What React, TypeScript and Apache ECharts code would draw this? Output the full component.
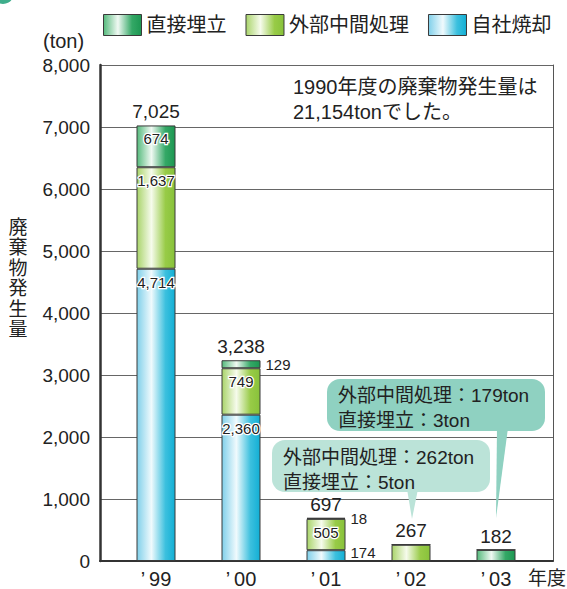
import React, { useEffect, useRef } from 'react';
import * as echarts from 'echarts';

// ---- data ----
const categories = ['’\u200999', '’\u200900', '’\u200901', '’\u200902', '’\u200903'];
const incineration = [4714, 2360, 174, 0, 0]; // 自社焼却
const intermediate = [1637, 749, 505, 262, 179]; // 外部中間処理
const landfill = [674, 129, 18, 5, 3]; // 直接埋立
const totals = [7025, 3238, 697, 267, 182];
const legendNames = ['直接埋立', '外部中間処理', '自社焼却'];
const yMax = 8000;
const yInterval = 1000;
const note1990 = ['1990年度の廃棄物発生量は', '21,154tonでした。'];
const bubble02 = ['外部中間処理：262ton', '直接埋立：5ton'];
const bubble03 = ['外部中間処理：179ton', '直接埋立：3ton'];

const FONT = '"Liberation Sans", "Noto Sans CJK JP", sans-serif';
const TXT = '#222';

function grad(stops: [number, string][]) {
  return new echarts.graphic.LinearGradient(
    0, 0, 1, 0,
    stops.map(([offset, color]) => ({ offset, color }))
  );
}
const landfillColor = () => grad([[0, '#55ba7c'], [0.38, '#f0f9f3'], [0.75, '#34a866'], [1, '#1c9752']]);
const interColor = () => grad([[0, '#a9d46a'], [0.38, '#f6fbec'], [0.75, '#98cb47'], [1, '#88c23a']]);
const incColor = () => grad([[0, '#80d0ea'], [0.38, '#f0fafd'], [0.75, '#3cc0de'], [1, '#12afd5']]);

const fmt = (v: number) => v.toLocaleString('en-US');

type Pos = 'in' | 'right' | 'rightLow' | null;
function lab(pos: Pos) {
  if (!pos) return { show: false };
  if (pos === 'in')
    return {
      show: true, position: 'insideTop', distance: 6, fontSize: 15, color: TXT,
      textBorderColor: '#fff', textBorderWidth: 2.5,
    };
  return {
    show: true, position: 'right', distance: 5, fontSize: 15, color: TXT,
    offset: pos === 'rightLow' ? [0, -3] : [0, 0],
  };
}

const incPos: Pos[] = ['in', 'in', 'rightLow', null, null];
const interPos: Pos[] = ['in', 'in', 'in', null, null];
const landPos: Pos[] = ['in', 'right', 'right', null, null];

export default function App() {
  const ref = useRef<HTMLDivElement>(null);
  useEffect(() => {
    document.body.style.margin = '0';
    if (!ref.current) return;
    const chart = echarts.init(ref.current, undefined, { renderer: 'svg' });
    const border = { borderColor: '#3a3a3a', borderWidth: 1 };
    const common = {
      type: 'bar', stack: 'total', xAxisIndex: 1, yAxisIndex: 2,
      barWidth: 39, barGap: '-100%',
      label: { fontFamily: FONT, formatter: (p: any) => fmt(p.value) },
    };
    const option: any = {
      animation: false,
      textStyle: { fontFamily: FONT },
      legend: {
        data: legendNames,
        left: 98, top: 9,
        itemWidth: 38, itemHeight: 21, itemGap: 19,
        icon: 'rect',
        itemStyle: { borderColor: '#3a3a3a', borderWidth: 1 },
        textStyle: { fontSize: 20, color: TXT, fontFamily: FONT },
        selectedMode: false,
      },
      grid: [
        { left: 100, right: 14, top: 65, bottom: 28, outerBoundsMode: 'none' },
        { left: 113.5, right: 28.5, top: 65, bottom: 28, outerBoundsMode: 'none' },
      ],
      xAxis: [
        {
          gridIndex: 0, type: 'value', min: 0, max: 1,
          axisLine: { show: true, onZero: false, lineStyle: { color: '#333', width: 2 } },
          axisTick: { show: false }, axisLabel: { show: false }, splitLine: { show: false },
        },
        {
          gridIndex: 1, type: 'category', data: categories,
          axisLine: { show: false }, axisTick: { show: false },
          axisLabel: { fontSize: 20, color: TXT, margin: 8, fontFamily: FONT },
        },
      ],
      yAxis: [
        {
          gridIndex: 0, type: 'value', min: 0, max: yMax, interval: yInterval,
          axisLine: { show: true, lineStyle: { color: '#333', width: 2.5 } },
          axisTick: { show: false },
          axisLabel: { fontSize: 19, color: TXT, margin: 10, fontFamily: FONT, formatter: (v: number) => fmt(v) },
          splitLine: { show: true, lineStyle: { color: '#666', width: 1 } },
        },
        {
          gridIndex: 0, type: 'value', min: 0, max: yMax, position: 'right',
          axisLine: { show: true, lineStyle: { color: '#555', width: 1 } },
          axisTick: { show: false }, axisLabel: { show: false }, splitLine: { show: false },
        },
        { gridIndex: 1, type: 'value', min: 0, max: yMax, show: false },
      ],
      series: [
        {
          ...common, name: '自社焼却',
          itemStyle: { color: incColor(), ...border },
          data: incineration.map((v, i) => ({ value: v, label: lab(incPos[i]) })),
        },
        {
          ...common, name: '外部中間処理',
          itemStyle: { color: interColor(), ...border },
          data: intermediate.map((v, i) => ({
            value: v,
            label: lab(interPos[i]),
            ...(i === 4 ? { itemStyle: { color: landfillColor() } } : {}),
          })),
        },
        {
          ...common, name: '直接埋立',
          itemStyle: { color: landfillColor(), ...border },
          data: landfill.map((v, i) => ({ value: v, label: lab(landPos[i]) })),
        },
        {
          type: 'bar', name: 'total', xAxisIndex: 1, yAxisIndex: 2,
          barWidth: 39, barGap: '-100%', silent: true, z: 1,
          itemStyle: { color: 'rgba(0,0,0,0)' },
          label: {
            show: true, position: 'top', distance: 4, fontSize: 19, color: TXT,
            fontFamily: FONT, formatter: (p: any) => fmt(p.value),
          },
          data: totals,
        },
      ],
      graphic: [
        { type: 'circle', shape: { cx: 3, cy: -7, r: 11 }, style: { fill: '#3fae8c' } },
        {
          type: 'text', x: 43, y: 41,
          style: { text: '(ton)', fontSize: 20, fill: TXT, fontFamily: FONT, textVerticalAlign: 'middle' },
        },
        {
          type: 'text', x: 293, y: 87,
          style: { text: note1990[0], fontSize: 20, fill: TXT, fontFamily: FONT, textVerticalAlign: 'middle' },
        },
        {
          type: 'text', x: 293, y: 112,
          style: { text: note1990[1], fontSize: 20, fill: TXT, fontFamily: FONT, textVerticalAlign: 'middle' },
        },
        {
          type: 'text', x: 18, y: 217,
          style: {
            text: '廃\n棄\n物\n発\n生\n量', fontSize: 19, lineHeight: 20.5, fill: TXT,
            fontFamily: FONT, textAlign: 'center', textVerticalAlign: 'top',
          },
        },
        {
          type: 'text', x: 528, y: 578,
          style: { text: '年度', fontSize: 19, fill: TXT, fontFamily: FONT, textVerticalAlign: 'middle' },
        },
        // bubble for '03
        {
          type: 'polygon', z: 100,
          shape: { points: [[497, 428], [508, 428], [496, 518]] },
          style: { fill: '#8fd1c1' },
        },
        {
          type: 'rect', z: 100,
          shape: { x: 327, y: 379, width: 218, height: 52, r: 13 },
          style: { fill: '#8fd1c1' },
        },
        {
          type: 'text', z: 101, x: 338, y: 395,
          style: { text: bubble03[0], fontSize: 19, fill: TXT, fontFamily: FONT, textVerticalAlign: 'middle' },
        },
        {
          type: 'text', z: 101, x: 338, y: 420,
          style: { text: bubble03[1], fontSize: 19, fill: TXT, fontFamily: FONT, textVerticalAlign: 'middle' },
        },
        // bubble for '02
        {
          type: 'polygon', z: 100,
          shape: { points: [[407, 489], [418, 489], [412, 519]] },
          style: { fill: '#bbe3d8' },
        },
        {
          type: 'rect', z: 100,
          shape: { x: 272, y: 440, width: 218, height: 52, r: 13 },
          style: { fill: '#bbe3d8' },
        },
        {
          type: 'text', z: 101, x: 283, y: 457,
          style: { text: bubble02[0], fontSize: 19, fill: TXT, fontFamily: FONT, textVerticalAlign: 'middle' },
        },
        {
          type: 'text', z: 101, x: 283, y: 482,
          style: { text: bubble02[1], fontSize: 19, fill: TXT, fontFamily: FONT, textVerticalAlign: 'middle' },
        },
      ],
    };
    chart.setOption(option);
    return () => chart.dispose();
  }, []);
  return <div ref={ref} style={{ width: 567, height: 589 }} />;
}
